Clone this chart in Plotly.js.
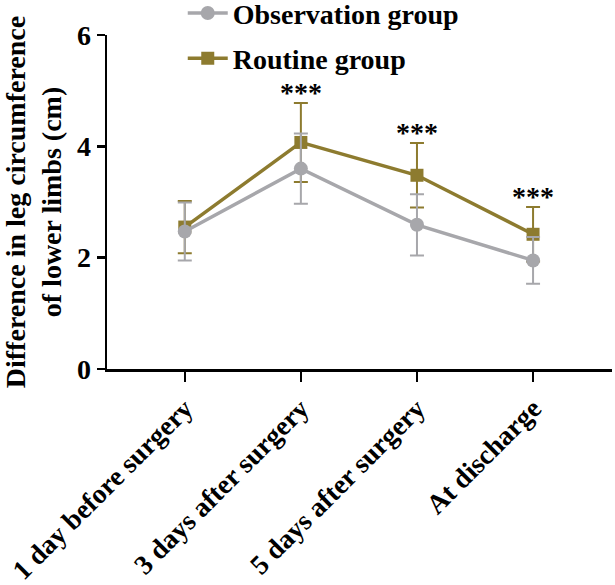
<!DOCTYPE html>
<html>
<head>
<meta charset="utf-8">
<script src="https://cdn.plot.ly/plotly-3.0.1.min.js"></script>
<style>html,body{margin:0;padding:0;background:#fff;}#chart{width:615px;height:585px;}</style>
</head>
<body>
<div id="chart"></div>
<script>
var categories = ["1 day before surgery", "3 days after surgery", "5 days after surgery", "At discharge"];
var observationMean = [2.47, 3.60, 2.59, 1.95];
var observationSD = [0.52, 0.63, 0.55, 0.42];
var routineMean = [2.55, 4.07, 3.48, 2.42];
var routineSD = [0.47, 0.71, 0.58, 0.49];
var significance = ["", "***", "***", "***"];
var yTicks = [0, 2, 4, 6];

var gray = "#a7a7ab";
var gold = "#8d7b2f";
var fontFam = "Liberation Serif, Times New Roman, serif";

var routine = {
  x: categories, y: routineMean, name: "Routine group", type: "scatter", mode: "lines+markers",
  legendrank: 2, legendgroup: "routine",
  line: {color: gold, width: 3.5},
  marker: {symbol: "square", size: 13, color: gold},
  error_y: {type: "data", array: routineSD, visible: true, color: gold, thickness: 2, width: 7}
};
var observation = {
  x: categories, y: observationMean, name: "Observation group", type: "scatter", mode: "lines+markers",
  legendrank: 1, legendgroup: "observation",
  line: {color: gray, width: 3.5},
  marker: {symbol: "circle", size: 14, color: gray},
  error_y: {type: "data", array: observationSD, visible: true, color: gray, thickness: 2, width: 7}
};

var annotations = [];
for (var i = 0; i < categories.length; i++) {
  if (significance[i]) {
    annotations.push({
      x: categories[i], y: routineMean[i] + routineSD[i], xref: "x", yref: "y",
      text: significance[i], showarrow: false, yanchor: "bottom", yshift: -7,
      font: {family: fontFam, size: 28, color: "#000"}
    });
  }
}

var layout = {
  width: 615, height: 585,
  margin: {l: 107, r: 3, t: 35, b: 216, autoexpand: false},
  paper_bgcolor: "#fff", plot_bgcolor: "#fff",
  font: {family: fontFam, color: "#000", size: 28, weight: "bold"},
  showlegend: true,
  legend: {x: 0.15, y: 1.14, xanchor: "left", yanchor: "top", traceorder: "grouped", tracegroupgap: 6,
           font: {family: fontFam, size: 28, weight: "bold", color: "#000"}, itemwidth: 40, bgcolor: "rgba(0,0,0,0)"},
  xaxis: {
    type: "category", range: [-0.67, 3.68], showline: true, linecolor: "#000", linewidth: 2.5,
    ticks: "outside", ticklen: 10, tickwidth: 2.5, tickcolor: "#000", tickangle: -45,
    showgrid: false, zeroline: false, fixedrange: true, automargin: false,
    tickfont: {family: fontFam, size: 27.5, weight: "bold", color: "#000"}
  },
  yaxis: {
    range: [0, 6], tickvals: yTicks, ticktext: yTicks.map(String), showline: true, linecolor: "#000", linewidth: 2.5,
    ticks: "outside", ticklen: 8, tickwidth: 2.5, tickcolor: "#000",
    showgrid: false, zeroline: false, automargin: true,
    tickfont: {family: fontFam, size: 28, weight: "bold", color: "#000"},
    title: {text: "Difference in leg circumference<br>of lower limbs (cm)", standoff: 11,
            font: {family: fontFam, size: 28, weight: "bold", color: "#000"}}
  },
  annotations: annotations
};

Plotly.newPlot("chart", [routine, observation], layout, {displayModeBar: false, staticPlot: true});
</script>
</body>
</html>
